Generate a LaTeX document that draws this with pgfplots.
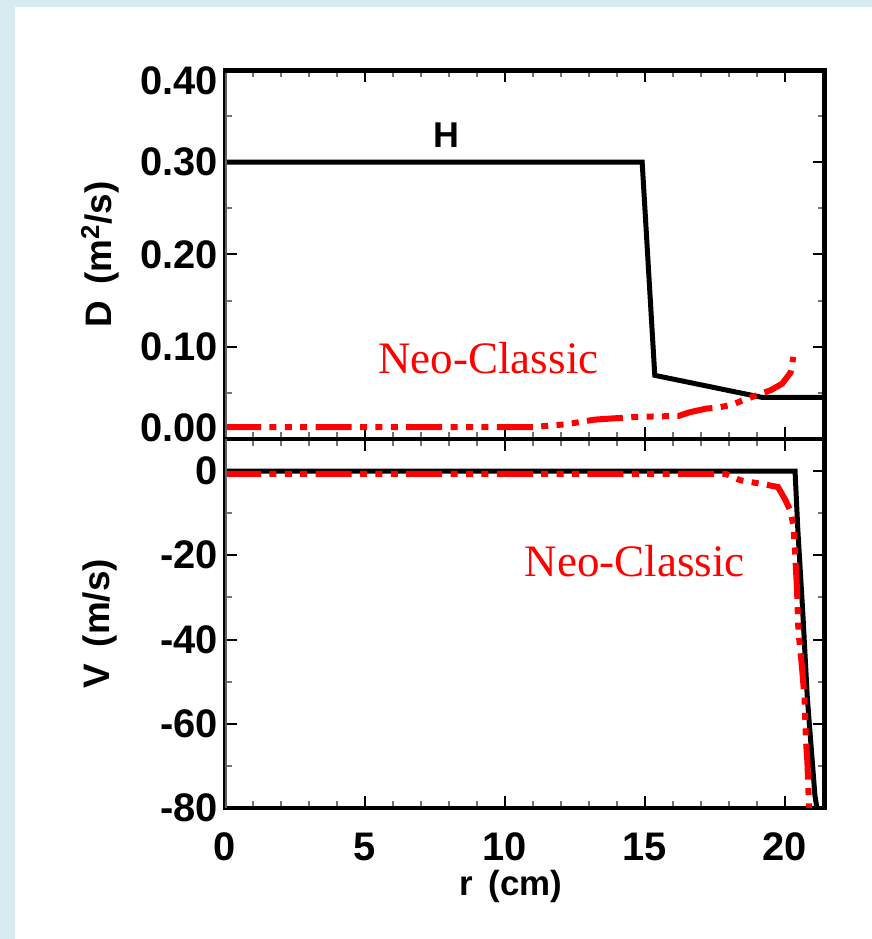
\documentclass[border=0pt]{standalone}
\usepackage{pgfplots}
\pgfplotsset{compat=1.18}
\usepackage{fontspec}
\setmainfont{Liberation Sans}
\newfontfamily\timesf{Liberation Serif}
\definecolor{bgblue}{RGB}{215,236,240}
\definecolor{idlred}{RGB}{255,0,0}

\begin{document}
\begin{tikzpicture}
\useasboundingbox (0bp,0bp) rectangle (436bp,469.5bp);
\fill[bgblue] (0bp,0bp) rectangle (436bp,469.5bp);
\fill[white] (7.5bp,0bp) rectangle (436bp,466bp);

\pgfplotsset{
  myaxis/.style={
    scale only axis, width=300bp, height=184.5bp,
    xmin=0, xmax=21.43,
    axis line style={line width=1.8bp, black},
    major tick style={line width=1bp, black},
    minor tick style={line width=1bp, black!55},
    major tick length=6bp, minor tick length=3.5bp,
    tick align=inside,
    xtick={0,5,10,15,20}, minor x tick num=4,
    ticklabel style={font=\fontsize{20}{24}\selectfont\bfseries},
    every axis y label/.style={at={(axis description cs:-0.208,0.5)}, rotate=90, anchor=center,
      font=\fontsize{18.5}{22}\selectfont\bfseries},
    every axis x label/.style={at={(axis description cs:0.477,-0.212)}, anchor=center,
      font=\fontsize{17.5}{21}\selectfont\bfseries},
    xticklabel style={yshift=-9bp},
  },
  blackline/.style={black, line width=2.5bp, line join=miter},
  redline/.style={idlred, line width=3bp, line cap=butt,
    dash pattern=on 18bp off 4.2bp on 3.5bp off 4.2bp on 3.5bp off 4.2bp on 3.5bp off 4.2bp},
}

% ---------- top panel: D ----------
\begin{axis}[myaxis, at={(112.5bp,250bp)}, anchor=south west,
  ymin=0, ymax=0.4,
  ytick={0,0.1,0.2,0.3,0.4},
  yticklabels={\raisebox{5.5bp}[\height][\depth]{0.00},0.10,0.20,0.30,\raisebox{-5.5bp}[\height][\depth]{0.40}},
  minor y tick num=1,
  xticklabels={},
  ylabel={D\, (m\textsuperscript{2}/s)},
]
\addplot[blackline] coordinates {
 (0,0.300) (14.9,0.300) (15.35,0.069) (19.2,0.045) (21.43,0.045)
};
\addplot[redline] coordinates {
 (0,0.013) (11.0,0.013) (12.2,0.016) (13.2,0.021) (14.7,0.024) (16.2,0.025)
 (16.6,0.029) (17.2,0.033) (17.6,0.034) (18.1,0.037) (18.5,0.042)
 (19.5,0.053) (19.9,0.060) (20.2,0.072) (20.3,0.089)
};
\node[anchor=base, font=\fontsize{18}{20}\selectfont\bfseries] at (axis cs:7.9,0.3157) {H};
\node[anchor=base, text=idlred, font=\timesf\fontsize{22.6}{26}\selectfont] at (axis cs:9.41,0.0714) {Neo-Classic};
\draw[black!62, line width=2bp] (rel axis cs:0,0) -- (rel axis cs:0,1);
\draw[black, line width=3bp] (rel axis cs:0,1) -- (rel axis cs:1,1);
\draw[black, line width=3.5bp] (rel axis cs:1,0) -- (rel axis cs:1,1.004);
\end{axis}

% ---------- bottom panel: V ----------
\begin{axis}[myaxis, at={(112.5bp,65.5bp)}, anchor=south west,
  ymin=-80, ymax=7.6,
  ytick={-80,-60,-40,-20,0},
  yticklabels={-80,-60,-40,-20,0},
  minor y tick num=1,
  xticklabels={0,5,10,15,20},
  ylabel={V\, (m/s)},
  xlabel={r\, (cm)},
]
\addplot[blackline] coordinates {
 (0,0) (20.36,0) (20.46,-14) (20.64,-34) (20.8,-54) (21.07,-77) (21.14,-80)
};
\addplot[redline] coordinates {
 (0,-0.7) (17.9,-0.7) (18.4,-2.2) (19.2,-3.1) (19.75,-3.8) (20.0,-6.7)
 (20.2,-9.5) (20.3,-13) (20.35,-18) (20.43,-28) (20.48,-38) (20.6,-46)
 (20.7,-54) (20.75,-64) (20.8,-69) (20.86,-80)
};
\node[anchor=base, text=idlred, font=\timesf\fontsize{22.6}{26}\selectfont] at (axis cs:14.64,-25) {Neo-Classic};
\draw[black!62, line width=2bp] (rel axis cs:0,0) -- (rel axis cs:0,1);
\draw[black, line width=3.5bp] (rel axis cs:1,-0.004) -- (rel axis cs:1,1);
\end{axis}
\end{tikzpicture}
\end{document}
